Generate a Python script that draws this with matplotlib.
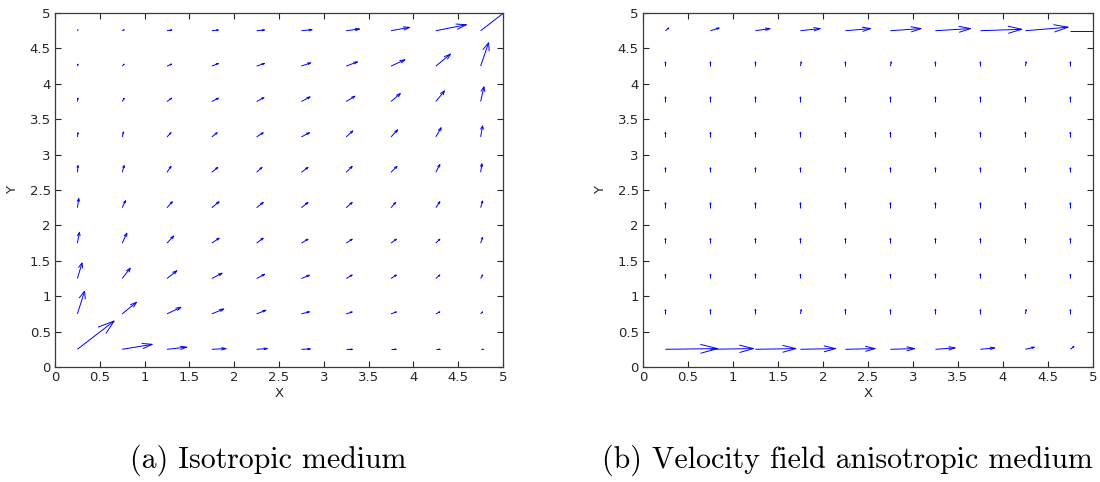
import numpy as np
import matplotlib
matplotlib.use('Agg')
import matplotlib.pyplot as plt
from matplotlib.collections import LineCollection
from matplotlib.ticker import FormatStrFormatter, MultipleLocator

plt.rcParams['font.family'] = ['Liberation Sans Narrow', 'DejaVu Sans']

# grid nodes (same along x and y)
GRID = [0.25, 0.75, 1.25, 1.75, 2.25, 2.75, 3.25, 3.75, 4.25, 4.75]

# isotropic medium, one row per y node (bottom to top)
U_ISO = [
    [0.41, 0.335, 0.22, 0.16, 0.12, 0.10, 0.07, 0.055, 0.045, 0.03],
    [0.08, 0.16, 0.156, 0.134, 0.104, 0.09, 0.067, 0.06, 0.045, 0.022],
    [0.052, 0.09, 0.11, 0.115, 0.09, 0.09, 0.067, 0.06, 0.045, 0.022],
    [0.022, 0.052, 0.074, 0.082, 0.074, 0.074, 0.067, 0.06, 0.045, 0.022],
    [0.015, 0.037, 0.06, 0.082, 0.074, 0.074, 0.067, 0.052, 0.045, 0.022],
    [0.007, 0.022, 0.045, 0.067, 0.06, 0.074, 0.067, 0.067, 0.045, 0.015],
    [0.007, 0.015, 0.045, 0.06, 0.074, 0.09, 0.074, 0.074, 0.06, 0.022],
    [0.007, 0.022, 0.052, 0.074, 0.082, 0.097, 0.097, 0.104, 0.097, 0.037],
    [0.007, 0.022, 0.052, 0.074, 0.089, 0.104, 0.126, 0.156, 0.164, 0.089],
    [0.007, 0.022, 0.052, 0.074, 0.089, 0.119, 0.149, 0.208, 0.342, 0.41],
]
V_ISO = [
    [0.40, 0.07, 0.03, 0.01, 0.01, 0.005, 0.0, 0.0, 0.0, 0.0],
    [0.32, 0.165, 0.094, 0.07, 0.052, 0.03, 0.028, 0.028, 0.028, 0.028],
    [0.22, 0.146, 0.11, 0.075, 0.06, 0.047, 0.05, 0.05, 0.05, 0.05],
    [0.15, 0.14, 0.10, 0.07, 0.07, 0.056, 0.056, 0.056, 0.056, 0.08],
    [0.13, 0.10, 0.085, 0.085, 0.075, 0.075, 0.075, 0.075, 0.085, 0.095],
    [0.095, 0.095, 0.085, 0.07, 0.07, 0.07, 0.085, 0.085, 0.11, 0.12],
    [0.06, 0.07, 0.06, 0.06, 0.06, 0.06, 0.085, 0.10, 0.13, 0.155],
    [0.047, 0.047, 0.047, 0.047, 0.056, 0.066, 0.075, 0.113, 0.15, 0.207],
    [0.028, 0.028, 0.028, 0.038, 0.038, 0.047, 0.061, 0.09, 0.17, 0.33],
    [0.014, 0.014, 0.01, 0.01, 0.01, 0.014, 0.024, 0.047, 0.085, 0.40],
]

# anisotropic medium velocity field
U_ANI = [
    [0.58, 0.48, 0.45, 0.39, 0.33, 0.27, 0.22, 0.16, 0.10, 0.04],
    [0.0, 0.0, 0.0, 0.01, 0.0, 0.0, 0.0, 0.0, 0.01, 0.0],
    [0.0, 0.0, 0.0, 0.0, 0.0, 0.0, 0.0, 0.0, 0.0, 0.0],
    [0.0, 0.0, 0.0, 0.0, 0.0, 0.0, 0.0, 0.0, 0.0, 0.0],
    [0.0, 0.0, 0.0, 0.0, 0.0, 0.0, 0.0, 0.0, 0.0, 0.0],
    [0.0, 0.0, 0.0, 0.0, 0.0, 0.0, 0.0, 0.0, 0.0, 0.0],
    [0.0, 0.0, 0.0, 0.0, 0.0, 0.0, 0.0, 0.0, 0.0, 0.0],
    [0.0, 0.0, 0.0, 0.0, 0.0, 0.0, 0.0, 0.0, 0.0, 0.0],
    [0.0, 0.0, 0.0, 0.01, 0.0, 0.01, 0.0, 0.0, 0.01, 0.0],
    [0.037, 0.097, 0.163, 0.22, 0.28, 0.34, 0.39, 0.46, 0.475, 0.5],
]
V_ANI = [
    [0.01, 0.01, 0.01, 0.01, 0.01, 0.01, 0.02, 0.02, 0.03, 0.04],
    [0.06, 0.06, 0.065, 0.06, 0.065, 0.06, 0.065, 0.06, 0.06, 0.06],
    [0.06, 0.06, 0.065, 0.06, 0.065, 0.06, 0.065, 0.065, 0.06, 0.06],
    [0.065, 0.065, 0.065, 0.065, 0.065, 0.065, 0.065, 0.065, 0.065, 0.065],
    [0.07, 0.07, 0.07, 0.07, 0.07, 0.07, 0.07, 0.07, 0.07, 0.07],
    [0.065, 0.065, 0.065, 0.065, 0.065, 0.065, 0.065, 0.065, 0.065, 0.065],
    [0.065, 0.065, 0.065, 0.065, 0.065, 0.065, 0.065, 0.065, 0.065, 0.065],
    [0.065, 0.065, 0.065, 0.065, 0.065, 0.065, 0.065, 0.065, 0.065, 0.065],
    [0.06, 0.06, 0.06, 0.06, 0.06, 0.06, 0.06, 0.06, 0.06, 0.06],
    [0.038, 0.038, 0.03, 0.03, 0.03, 0.03, 0.03, 0.02, 0.05, 0.0],
]

CAPTIONS = ['(a) Isotropic medium', '(b) Velocity field anisotropic medium']


def quiver_lines(ax, u, v, alpha=0.33, beta=0.33):
    # shaft plus two open head strokes, head size relative to the arrow length
    X, Y = np.meshgrid(GRID, GRID)
    U = np.asarray(u)
    V = np.asarray(v)
    tip_x = X + U
    tip_y = Y + V
    segs = []
    for x0, y0, x1, y1, du, dv in zip(X.ravel(), Y.ravel(), tip_x.ravel(),
                                      tip_y.ravel(), U.ravel(), V.ravel()):
        segs.append([(x0, y0), (x1, y1)])
        h1 = (x1 - alpha * (du + beta * dv), y1 - alpha * (dv - beta * du))
        h2 = (x1 - alpha * (du - beta * dv), y1 - alpha * (dv + beta * du))
        segs.append([h1, (x1, y1), h2])
    ax.add_collection(LineCollection(segs, colors='#0000ff', linewidths=0.7))


def style_axes(ax):
    ax.set_xlim(0, 5)
    ax.set_ylim(0, 5)
    ax.xaxis.set_major_locator(MultipleLocator(0.5))
    ax.yaxis.set_major_locator(MultipleLocator(0.5))
    ax.xaxis.set_major_formatter(FormatStrFormatter('%g'))
    ax.yaxis.set_major_formatter(FormatStrFormatter('%g'))
    ax.tick_params(direction='in', top=True, right=True, length=4, width=0.8,
                   labelsize=9.5, colors='#262626', pad=3)
    for s in ax.spines.values():
        s.set_color('#3a3a3a')
        s.set_linewidth(0.9)
    ax.set_xlabel('X', fontsize=9.5, color='#262626', labelpad=2)
    ax.set_ylabel('Y', fontsize=9.5, color='#262626', labelpad=8)


fig = plt.figure(figsize=(11, 4.82), dpi=100)
ax1 = fig.add_axes([0.05, 0.2386, 0.4073, 0.7344])
ax2 = fig.add_axes([0.5845, 0.2386, 0.409, 0.7344])

quiver_lines(ax1, U_ISO, V_ISO)
quiver_lines(ax2, U_ANI, V_ANI)
style_axes(ax1)
style_axes(ax2)

# captions sit centred under each subfigure block
for xc, cap in zip([0.2436, 0.770], CAPTIONS):
    fig.text(xc, 0.046, cap, ha='center', va='center',
             family='cmr10', fontsize=21.5, color='black')

fig.savefig('out.png', dpi=100)
